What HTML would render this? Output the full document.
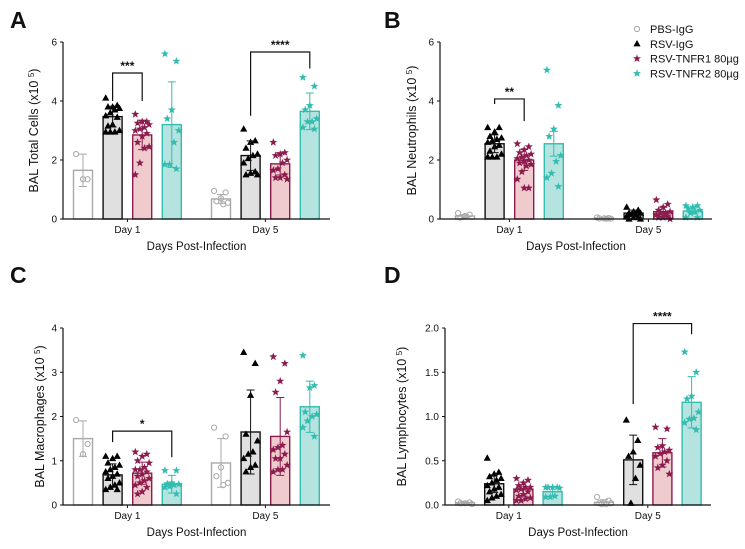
<!DOCTYPE html>
<html><head><meta charset="utf-8">
<style>
html,body{margin:0;padding:0;background:#fff;}
svg{display:block;font-family:"Liberation Sans",Arial,sans-serif;}
</style></head>
<body>
<svg id="fig" width="745" height="549" viewBox="0 0 745 549" xmlns="http://www.w3.org/2000/svg"></svg>
<script>
const groups = ["PBS-IgG","RSV-IgG","RSV-TNFR1 80µg","RSV-TNFR2 80µg"];
const days = ["Day 1","Day 5"];

// Panel A - Total cells
const aMeans = [[1.65,3.47,2.85,3.2],[0.68,2.15,1.87,3.65]];
const aErr = [[0.55,0.35,0.5,1.45],[0.15,0.5,0.38,0.62]];
const aPoints = [
 [[2.2,1.35,1.35],
  [4.1,3.85,3.8,3.8,3.75,3.7,3.6,3.5,3.45,3.2,3.15,3.0,2.95,2.95,2.95],
  [3.55,3.3,3.3,3.25,3.2,3.1,3.05,3.0,2.9,2.8,2.6,2.45,2.4,1.9,1.5],
  [5.6,5.35,3.7,3.4,3.0,2.6,1.85,1.85,1.7]],
 [[0.95,0.9,0.7,0.6,0.55,0.5],
  [3.05,2.65,2.6,2.4,2.2,2.15,2.05,1.9,1.6,1.55,1.5,1.5],
  [2.6,2.25,2.2,2.15,2.0,1.9,1.7,1.65,1.5,1.4,1.4,1.35],
  [4.8,4.5,3.85,3.7,3.4,3.3,3.3,3.1,3.05]]];
const aTicks = ["0","2","4","6"];
const aTickVals = [0,2,4,6];

// Panel B - Neutrophils
const bMeans = [[0.1,2.55,2.0,2.55],[0.03,0.2,0.25,0.27]];
const bErr = [[0.05,0.3,0.35,0.42],[0.02,0.1,0.15,0.1]];
const bPoints = [
 [[0.2,0.15,0.1,0.05],
  [3.1,3.1,2.95,2.8,2.75,2.7,2.65,2.6,2.5,2.45,2.3,2.2,2.1,2.1,2.1],
  [2.55,2.45,2.35,2.25,2.2,2.15,2.1,2.05,2.0,1.95,1.9,1.85,1.8,1.6,1.35,1.05,1.05],
  [5.05,3.85,3.05,2.8,2.15,1.95,1.55,1.4,1.1]],
 [[0.05,0.03,0.02,0.02,0.01,0.01],
  [0.4,0.3,0.25,0.2,0.2,0.15,0.15,0.1,0.05,0.05,0.0,0.0],
  [0.65,0.5,0.4,0.3,0.25,0.2,0.2,0.15,0.1,0.05,0.05,0.0],
  [0.45,0.45,0.4,0.35,0.3,0.25,0.2,0.05,0.05]]];
const bTicks = ["0","2","4","6"];
const bTickVals = [0,2,4,6];

// Panel C - Macrophages
const cMeans = [[1.5,0.68,0.72,0.47],[0.95,1.65,1.55,2.22]];
const cErr = [[0.4,0.25,0.25,0.2],[0.55,0.95,0.88,0.58]];
const cPoints = [
 [[1.92,1.38,1.15],
  [1.1,1.1,1.05,0.95,0.9,0.85,0.8,0.75,0.7,0.65,0.6,0.5,0.45,0.4,0.35,0.35],
  [1.2,1.15,1.1,1.0,0.95,0.85,0.8,0.8,0.75,0.7,0.65,0.6,0.55,0.5,0.45,0.4,0.3,0.25],
  [0.78,0.78,0.5,0.48,0.47,0.45,0.42,0.4,0.25]],
 [[1.75,1.55,0.85,0.65,0.5,0.45],
  [3.45,3.2,2.48,1.6,1.45,1.2,1.15,1.05,0.9,0.85,0.75],
  [3.35,3.2,2.8,2.55,1.65,1.35,1.3,1.25,1.15,1.05,1.05,0.9,0.8,0.8,0.75],
  [3.38,2.7,2.65,2.1,2.05,2.0,1.9,1.75,1.55]]];
const cTicks = ["0","1","2","3","4"];
const cTickVals = [0,1,2,3,4];

// Panel D - Lymphocytes
const dMeans = [[0.025,0.24,0.18,0.15],[0.03,0.51,0.59,1.16]];
const dErr = [[0.01,0.1,0.08,0.05],[0.03,0.28,0.16,0.29]];
const dPoints = [
 [[0.04,0.03,0.02,0.02,0.01],
  [0.53,0.37,0.35,0.32,0.3,0.28,0.25,0.22,0.2,0.18,0.15,0.12,0.1,0.08,0.05],
  [0.3,0.28,0.25,0.22,0.2,0.2,0.18,0.17,0.15,0.12,0.1,0.08,0.07,0.05,0.05],
  [0.2,0.2,0.2,0.2,0.19,0.1,0.09,0.09]],
 [[0.09,0.05,0.03,0.02,0.02,0.01,0.01],
  [0.96,0.73,0.6,0.55,0.45,0.3,0.02],
  [0.88,0.86,0.67,0.65,0.62,0.6,0.58,0.55,0.5,0.45,0.42,0.35],
  [1.73,1.5,1.23,1.2,1.05,0.98,0.97,0.93,0.85]]];
const dTicks = ["0.0","0.5","1.0","1.5","2.0"];
const dTickVals = [0,0.5,1,1.5,2];

// significance brackets: [day, groupFrom, groupTo, top, legFrom, legTo, label]
const aSig = [[0,1,2,4.95,4.0,4.0,"***"],[1,1,3,5.66,3.5,5.1,"****"]];
const bSig = [[0,1,2,4.07,3.9,3.32,"**"]];
const cSig = [[0,1,3,1.67,1.42,1.08,"*"]];
const dSig = [[1,1,3,2.05,1.14,1.93,"****"]];

const NS="http://www.w3.org/2000/svg";
const svg=document.getElementById('fig');
function el(tag,attrs,parent){const e=document.createElementNS(NS,tag);for(const k in attrs)e.setAttribute(k,attrs[k]);(parent||svg).appendChild(e);return e;}

const fills=["#ffffff","#e0e0e0","#efcbcd","#b5e4e0"];
const strokes=["#a8a8a8","#111111","#8c1c4e","#33bdb0"];
const ptCols=["#a8a8a8","#000000","#8c1c4e","#33bdb0"];

function star(cx,cy,r){let p=[];for(let i=0;i<10;i++){const a=-Math.PI/2+i*Math.PI/5;const rr=i%2?r*0.42:r;p.push((cx+rr*Math.cos(a)).toFixed(1)+","+(cy+rr*Math.sin(a)).toFixed(1));}return p.join(" ");}
function marker(g,type,x,y,name){
  let m;
  if(type===0){m=el('circle',{cx:x,cy:y,r:2.6,fill:'none',stroke:ptCols[0],'stroke-width':1},g);}
  else if(type===1){m=el('polygon',{points:`${x},${y-3.8} ${x+3.6},${y+2.6} ${x-3.6},${y+2.6}`,fill:ptCols[1]},g);}
  else {m=el('polygon',{points:star(x,y,4.2),fill:ptCols[type]},g);}
  
  
}

function panel(cfg){
  const g=el('g',{});
  
  
  const yScale=v=>cfg.y0-(v/cfg.ymax)*(cfg.y0-cfg.ytop);
  const xCenter=(d,k)=>cfg.x0+d*cfg.dayGap+k*cfg.step;
  const bw=19;
  const L=el('text',{x:cfg.lx,y:cfg.ly,'font-size':23,'font-weight':'bold',fill:'#111'},g);
  L.textContent=cfg.letter;
  
  
  for(let d=0;d<2;d++){
    for(let k=0;k<4;k++){
      const cx=xCenter(d,k),m=cfg.means[d][k],e=cfg.err[d][k];
      const r=el('rect',{x:cx-bw/2,y:yScale(m),width:bw,height:cfg.y0-yScale(m),fill:fills[k],stroke:strokes[k],'stroke-width':1.4},g);
      
      
      const pts=cfg.points[d][k];
      pts.forEach((v,i)=>{
        const off=(((i*5)%7)-3)*2.3;
        marker(g,k,cx+off,yScale(v),'data-point');
      });
      const eb=el('path',{d:`M${cx},${yScale(m+e)}V${yScale(Math.max(0,m-e))}M${cx-4},${yScale(m+e)}H${cx+4}M${cx-4},${yScale(Math.max(0,m-e))}H${cx+4}`,stroke:strokes[k],'stroke-width':1,fill:'none'},g);
      
      
    }
  }
  const ax=el('path',{d:`M${cfg.axX},${cfg.ytop}V${cfg.y0}H${cfg.axEnd}`,stroke:'#111','stroke-width':1.2,fill:'none'},g);
  
  
  cfg.tickVals.forEach((v,i)=>{
    const y=yScale(v);
    el('line',{x1:cfg.axX-3,x2:cfg.axX,y1:y,y2:y,stroke:'#111','stroke-width':1},g);
    const t=el('text',{x:cfg.axX-6,y:y+3.5,'font-size':10,'text-anchor':'end',fill:'#111'},g);
    t.textContent=cfg.ticks[i];
    
    
  });
  for(let d=0;d<2;d++){
    const cx=(xCenter(d,0)+xCenter(d,3))/2;
    el('line',{x1:cx,x2:cx,y1:cfg.y0,y2:cfg.y0+3,stroke:'#111','stroke-width':1},g);
    const t=el('text',{x:cx,y:cfg.y0+14,'font-size':10,'text-anchor':'middle',fill:'#111'},g);
    t.textContent=days[d];
    
    
  }
  const xt=el('text',{x:(cfg.axX+cfg.axEnd)/2,y:cfg.y0+31,'font-size':11.5,'text-anchor':'middle',fill:'#111'},g);
  xt.textContent='Days Post-Infection';
  
  
  const ym=(cfg.ytop+cfg.y0)/2;
  const yt=el('text',{x:cfg.ytx,y:ym,'font-size':12.5,'text-anchor':'middle',fill:'#111',transform:`rotate(-90 ${cfg.ytx} ${ym})`},g);
  yt.innerHTML=cfg.ytitle+' (x10 <tspan baseline-shift="super" font-size="8">5</tspan>)';
  
  
  cfg.sig.forEach(s=>{
    const x1=xCenter(s[0],s[1]),x2=xCenter(s[0],s[2]);
    const p=el('path',{d:`M${x1},${yScale(s[4])}V${yScale(s[3])}H${x2}V${yScale(s[5])}`,stroke:'#111','stroke-width':1.2,fill:'none'},g);
    
    
    const t=el('text',{x:(x1+x2)/2,y:yScale(s[3])-3,'font-size':12,'font-weight':'bold','text-anchor':'middle',fill:'#111'},g);
    t.textContent=s[6];
    
    
  });
}

panel({name:'panel-a-total-cells',letter:'A',lx:10,ly:28,means:aMeans,err:aErr,points:aPoints,ticks:aTicks,tickVals:aTickVals,sig:aSig,
  ymax:6,ytop:42,y0:219,x0:83,dayGap:138,step:29.6,axX:63,axEnd:330,ytx:38,ytitle:'BAL Total Cells'});
panel({name:'panel-b-neutrophils',letter:'B',lx:384,ly:28,means:bMeans,err:bErr,points:bPoints,ticks:bTicks,tickVals:bTickVals,sig:bSig,
  ymax:6,ytop:42,y0:219,x0:465,dayGap:139,step:29.6,axX:440,axEnd:712,ytx:416,ytitle:'BAL Neutrophils'});
panel({name:'panel-c-macrophages',letter:'C',lx:10,ly:283,means:cMeans,err:cErr,points:cPoints,ticks:cTicks,tickVals:cTickVals,sig:cSig,
  ymax:4,ytop:328,y0:505,x0:83,dayGap:138,step:29.6,axX:63,axEnd:330,ytx:44,ytitle:'BAL Macrophages'});
panel({name:'panel-d-lymphocytes',letter:'D',lx:384,ly:283,means:dMeans,err:dErr,points:dPoints,ticks:dTicks,tickVals:dTickVals,sig:dSig,
  ymax:2,ytop:328,y0:505,x0:465,dayGap:139,step:29.2,axX:445,axEnd:711,ytx:406,ytitle:'BAL Lymphocytes'});

const lg=el('g',{});


groups.forEach((n,k)=>{
  const y=29+k*14.8;
  marker(lg,k,637,y,'legend-marker');
  const t=el('text',{x:650,y:y+4,'font-size':11,fill:'#111'},lg);
  t.textContent=n;
  
  
});
</script>
</body></html>
